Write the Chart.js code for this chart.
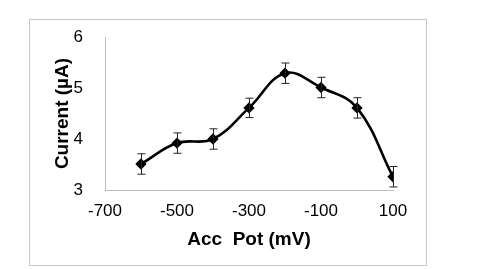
<!DOCTYPE html>
<html lang="en">
<head>
    <meta charset="UTF-8">
    <title>Current vs Acc Pot</title>
    <script src="https://cdn.jsdelivr.net/npm/chart.js"></script>
    <style>
        body { margin: 0; background: #fff; }
        #wrap { position: relative; width: 480px; height: 269px; }
        #frame { position: absolute; left: 29px; top: 19px; width: 396px; height: 245px; border: 1px solid #c8c8c8; }
    </style>
</head>
<body>
    <div id="wrap">
        <div id="frame"></div>
        <canvas id="potChart" width="480" height="269"></canvas>
    </div>

    <script>
        // data
        const potentials = [-600, -500, -400, -300, -200, -100, 0, 100];
        const currents = [3.51, 3.92, 4.00, 4.61, 5.29, 5.01, 4.61, 3.26];
        const errors = [0.2, 0.2, 0.2, 0.19, 0.2, 0.2, 0.2, 0.2];
        const xTicks = [-700, -500, -300, -100, 100];
        const yTicks = [3, 4, 5, 6];

        const points = potentials.map((p, i) => ({ x: p, y: currents[i] }));

        // draws the vertical error bars with small caps
        const errorBars = {
            id: 'errorBars',
            afterDatasetsDraw(chart) {
                const ctx = chart.ctx;
                const xs = chart.scales.x, ys = chart.scales.y;
                ctx.save();
                ctx.strokeStyle = '#222';
                ctx.lineWidth = 1;
                potentials.forEach((p, i) => {
                    const px = Math.round(xs.getPixelForValue(p)) + 0.5;
                    const top = ys.getPixelForValue(currents[i] + errors[i]);
                    const bot = ys.getPixelForValue(currents[i] - errors[i]);
                    ctx.beginPath();
                    ctx.moveTo(px, top); ctx.lineTo(px, bot);
                    ctx.moveTo(px - 4, top); ctx.lineTo(px + 4, top);
                    ctx.moveTo(px - 4, bot); ctx.lineTo(px + 4, bot);
                    ctx.stroke();
                });
                ctx.restore();
            }
        };

        const tickFont = { family: 'Liberation Sans, Arial, sans-serif', size: 17 };
        const titleFont = { family: 'Liberation Sans, Arial, sans-serif', size: 19, weight: 'bold' };

        new Chart(document.getElementById('potChart'), {
            type: 'scatter',
            data: {
                datasets: [{
                    data: points,
                    showLine: true,
                    borderColor: '#000',
                    borderWidth: 2.6,
                    tension: 0.4,
                    pointStyle: 'rectRot',
                    pointRadius: 3.8,
                    pointBackgroundColor: '#000',
                    pointBorderColor: '#000'
                }]
            },
            options: {
                responsive: false,
                animation: false,
                layout: { padding: { left: 47, right: 87, top: 37, bottom: 14 } },
                plugins: { legend: { display: false }, tooltip: { enabled: false } },
                scales: {
                    x: {
                        type: 'linear',
                        min: -700,
                        max: 100,
                        afterBuildTicks: s => { s.ticks = xTicks.map(v => ({ value: v })); },
                        afterFit: s => { s.height = 65; },
                        grid: { display: false, drawTicks: false },
                        border: { color: '#bdbdbd', width: 1 },
                        ticks: { font: tickFont, color: '#000', padding: 11, maxRotation: 0 },
                        title: { display: true, text: 'Acc  Pot (mV)', font: titleFont, color: '#000' }
                    },
                    y: {
                        min: 3,
                        max: 6,
                        afterBuildTicks: s => { s.ticks = yTicks.map(v => ({ value: v })); },
                        afterFit: s => { s.width = 58; },
                        grid: { display: false, drawTicks: false },
                        border: { color: '#bdbdbd', width: 1 },
                        ticks: { font: tickFont, color: '#000', padding: 22 },
                        title: { display: true, text: 'Current (µA)', font: titleFont, color: '#000' }
                    }
                }
            },
            plugins: [errorBars]
        });
    </script>
</body>
</html>
